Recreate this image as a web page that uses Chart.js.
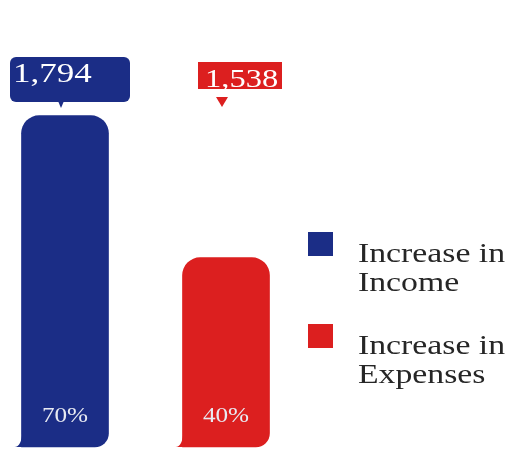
<!DOCTYPE html>
<html>
<head>
<meta charset="utf-8">
<script src="https://cdn.jsdelivr.net/npm/chart.js@4"></script>
<style>
  body { margin: 0; background: #fff; }
</style>
</head>
<body>
<canvas id="myChart" width="520" height="450"></canvas>
<script>
// data
var categories = ["Increase in Income", "Increase in Expenses"];
var legendLines = [["Increase in", "Income"], ["Increase in", "Expenses"]];
var shares = [70, 40];
var totals = [1794, 1538];
var barColors = ["#1b2d86", "#dc1f1f"];

// callout look per bar (offsets from bar centre)
var callouts = [
  {x0: -55, x1: 65, y0: 57, y1: 102, r: 6, py0: 101, py1: 108, phw: 3, tx: -52, ty: 82, size: 28},
  {x0: -28, x1: 56, y0: 62, y1: 89, r: 0, py0: 97, py1: 107, phw: 6, tx: -21, ty: 87, size: 26}
];

function stretchText(ctx, str, x, y, size, sx, align) {
  ctx.save();
  ctx.font = size + "px 'Liberation Serif', serif";
  ctx.textAlign = align || "left";
  ctx.textBaseline = "alphabetic";
  ctx.translate(x, y);
  ctx.scale(sx, 1);
  ctx.fillText(str, 0, 0);
  ctx.restore();
}

var decorations = {
  id: "decorations",
  afterDatasetsDraw: function(chart) {
    var ctx = chart.ctx;
    var bars = chart.getDatasetMeta(0).data;
    bars.forEach(function(bar, i) {
      var left = bar.x - bar.width / 2;
      var base = bar.base;
      ctx.save();
      ctx.fillStyle = barColors[i];
      // little flare at bottom-left
      ctx.beginPath();
      ctx.moveTo(left + 1, base - 16);
      ctx.quadraticCurveTo(left, base, left - 7, base);
      ctx.lineTo(left + 2, base);
      ctx.closePath();
      ctx.fill();

      // callout box
      var c = callouts[i];
      ctx.beginPath();
      ctx.roundRect(bar.x + c.x0, c.y0, c.x1 - c.x0, c.y1 - c.y0, c.r);
      ctx.fill();
      ctx.beginPath();
      ctx.moveTo(bar.x - 4 - c.phw, c.py0);
      ctx.lineTo(bar.x - 4 + c.phw, c.py0);
      ctx.lineTo(bar.x - 4, c.py1);
      ctx.closePath();
      ctx.fill();
      ctx.fillStyle = "#ffffff";
      stretchText(ctx, totals[i].toLocaleString("en-US"), bar.x + c.tx, c.ty, c.size, 1.25);

      // percent inside bar
      ctx.fillStyle = "#e8eaf2";
      stretchText(ctx, shares[i] + "%", bar.x, 422, 21, 1.2, "center");
      ctx.restore();
    });

    // legend
    ctx.save();
    legendLines.forEach(function(lines, i) {
      var y = 232 + i * 92;
      ctx.fillStyle = barColors[i];
      ctx.fillRect(308, y, 25, 24);
      ctx.fillStyle = "#262626";
      lines.forEach(function(t, j) {
        stretchText(ctx, t, 358, y + 30 + j * 29, 27, 1.25);
      });
    });
    ctx.restore();
  }
};

new Chart("myChart", {
  type: "bar",
  data: {
    labels: categories,
    datasets: [{
      data: shares,
      backgroundColor: barColors,
      borderWidth: 0,
      borderSkipped: false,
      borderRadius: {topLeft: 18, topRight: 18, bottomLeft: 0, bottomRight: 14},
      barThickness: 87,
      clip: false
    }]
  },
  options: {
    responsive: false,
    animation: false,
    layout: {padding: {left: 65, right: 294, top: 92, bottom: 3}},
    plugins: {
      legend: {display: false},
      tooltip: {enabled: false}
    },
    scales: {
      x: {display: false, offset: false},
      y: {display: false, min: 0, max: 75}
    }
  },
  plugins: [decorations]
});
</script>
</body>
</html>
